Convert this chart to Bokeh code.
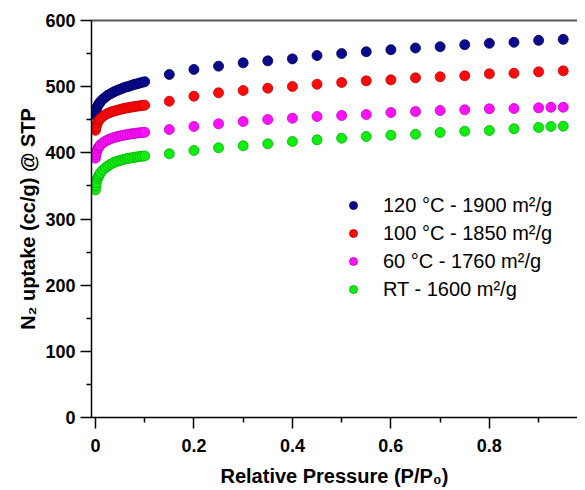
from bokeh.plotting import figure
from bokeh.models import (Range1d, FixedTicker, LinearAxis, Legend, LegendItem)
from bokeh.embed import file_html
from bokeh.resources import INLINE

# ---------------- data ----------------
x_dense = [0.0, 0.001, 0.002, 0.004, 0.006, 0.008, 0.01, 0.015, 0.02, 0.025, 0.03,
           0.035, 0.04, 0.045, 0.05, 0.055, 0.06, 0.065, 0.07, 0.075, 0.08, 0.085,
           0.09, 0.095, 0.1]
x_sparse = [0.15, 0.2, 0.25, 0.3, 0.35, 0.4, 0.45, 0.5, 0.55, 0.6, 0.65, 0.7,
            0.75, 0.8, 0.85, 0.9, 0.95]
x_sparse2 = [0.15, 0.2, 0.25, 0.3, 0.35, 0.4, 0.45, 0.5, 0.55, 0.6, 0.65, 0.7,
             0.75, 0.8, 0.85, 0.9, 0.925, 0.95]

s120_dense = [457, 462, 466, 470, 473, 475, 477, 481, 484, 487, 489, 491, 493,
              494.5, 496, 497.5, 499, 500, 501, 502.5, 503.5, 504.5, 505.5, 506.5, 507.5]
s120_sparse = [518.4, 526, 531, 536, 539, 542, 547, 550, 552.8, 555.8, 558.4,
               560.4, 563.4, 565.5, 567, 570, 571.5]

s100_dense = [434, 438, 441, 445, 448, 450, 452, 455, 457.5, 459.5, 461, 462.5,
              463.5, 464.5, 465.5, 466.5, 467.3, 468, 468.7, 469.3, 470, 470.5,
              471, 471.5, 472]
s100_sparse = [478, 485.6, 490.7, 494.2, 497.7, 500.2, 503.7, 506.3, 508.8, 510.3,
               513.3, 514.9, 516.4, 519.4, 520.3, 522.4, 523.9]

s60_dense = [392, 397, 401, 405, 408, 410, 412, 415, 417.5, 419.5, 421, 422.5,
             423.5, 424.5, 425.5, 426.3, 427, 427.7, 428.3, 428.9, 429.4, 429.9,
             430.3, 430.7, 431]
s60_sparse = [435.2, 439.8, 443.9, 447.3, 450.3, 452.3, 454.9, 456.4, 457.9, 460.9,
              462.4, 464, 465, 466.5, 466.9, 468, 468.9, 468.9]

srt_dense = [344, 350, 355, 361, 364, 367, 369.5, 374, 377.5, 380, 382.5, 384.5,
             386, 387.5, 388.5, 389.5, 390.5, 391.3, 392, 392.7, 393.3, 393.9,
             394.4, 394.9, 395.3]
srt_sparse = [398.5, 403.5, 407.6, 410.6, 413.6, 417.1, 419.6, 422.1, 424.7, 426.6,
              428.1, 430.7, 432.7, 433.7, 436.3, 438.3, 439.8, 440.2]

labels = ["120 °C - 1900 m²/g", "100 °C - 1850 m²/g", "60 °C - 1760 m²/g",
          "RT - 1600 m²/g"]
colors = ["#0a0a8c", "#ff0a0a", "#ff10ff", "#10ee10"]
edge_colors = ["#000060", "#c00000", "#c000c0", "#00b000"]

x_ticks = [0, 0.2, 0.4, 0.6, 0.8, 1.0]
x_minor = [0.1, 0.3, 0.5, 0.7, 0.9]
y_ticks = [0, 100, 200, 300, 400, 500, 600]
y_minor = [50, 150, 250, 350, 450, 550]

series = [
    (x_dense + x_sparse, s120_dense + s120_sparse),
    (x_dense + x_sparse, s100_dense + s100_sparse),
    (x_dense + x_sparse2, s60_dense + s60_sparse),
    (x_dense + x_sparse2, srt_dense + srt_sparse),
]

# ---------------- figure ----------------
p = figure(width=577, height=490, output_backend="svg", toolbar_location=None,
           x_range=Range1d(-0.008, 0.979), y_range=Range1d(0, 600),
           min_border_left=91, min_border_right=0, min_border_top=20,
           min_border_bottom=73)
p.outline_line_color = None
p.xgrid.visible = False
p.ygrid.visible = False
p.background_fill_color = "white"
p.border_fill_color = "white"

font = "Liberation Sans"

xa = p.xaxis[0]
xa.ticker = FixedTicker(ticks=x_ticks, minor_ticks=x_minor)
xa.major_label_overrides = {0: "0", 1: "1"}
ya = p.yaxis[0]
ya.ticker = FixedTicker(ticks=y_ticks, minor_ticks=y_minor)

for ax in (xa, ya):
    ax.axis_line_color = "black"
    ax.axis_line_width = 1.5
    ax.major_tick_line_color = "black"
    ax.minor_tick_line_color = "black"
    ax.major_tick_line_width = 1.5
    ax.minor_tick_line_width = 1.5
    ax.major_tick_in = 0
    ax.minor_tick_in = 0
    ax.major_tick_out = 11
    ax.minor_tick_out = 5
    ax.major_label_text_font = font
    ax.major_label_text_font_style = "bold"
    ax.major_label_text_font_size = "18px"
    ax.major_label_text_color = "black"
    ax.axis_label_text_font = font
    ax.axis_label_text_font_style = "bold"
    ax.axis_label_text_font_size = "20px"
    ax.axis_label_text_color = "black"

xa.axis_label = "Relative Pressure (P/P₀)"
ya.axis_label = "N₂ uptake (cc/g) @ STP"
xa.major_label_standoff = 10
ya.major_label_standoff = 5
xa.axis_label_standoff = 10
ya.axis_label_standoff = 3

top = LinearAxis(ticker=FixedTicker(ticks=[]), axis_line_color="#555555",
                 axis_line_width=2, major_tick_out=0, minor_tick_out=0,
                 major_tick_in=0, minor_tick_in=0)
p.add_layout(top, "above")

items = []
for (xs, ys), lab, c, ec in zip(series, labels, colors, edge_colors):
    r = p.scatter(xs, ys, size=10, fill_color=c, line_color=ec, line_width=0.8)
    items.append(LegendItem(label=lab, renderers=[r]))

legend = Legend(items=items, location=(252, 114), padding=0, margin=0,
                glyph_width=20, glyph_height=28, label_height=28, spacing=0,
                label_standoff=20, background_fill_alpha=0, border_line_color=None,
                label_text_font=font, label_text_font_size="20px",
                label_text_color="black")
p.add_layout(legend, "center")

open("out.html", "w").write(file_html(p, INLINE))
